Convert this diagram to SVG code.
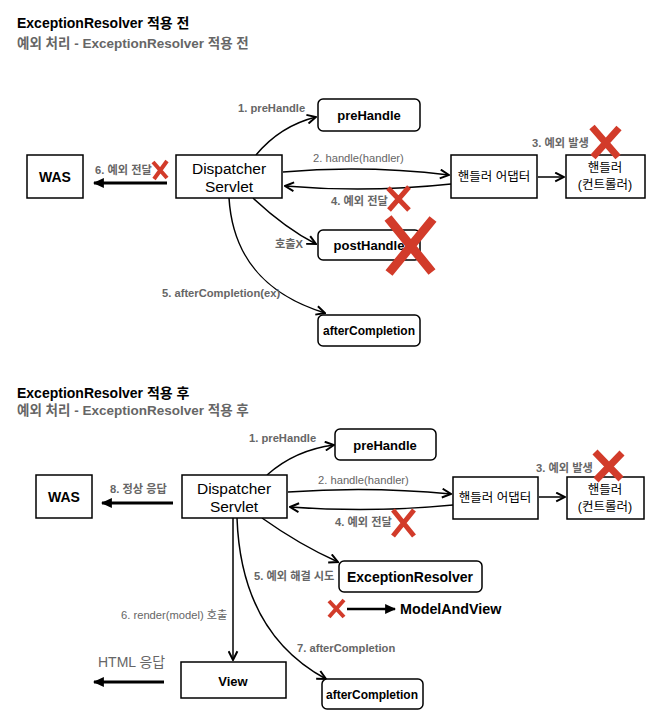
<svg xmlns="http://www.w3.org/2000/svg" width="667" height="717" viewBox="0 0 667 717">
<style>
text{font-family:"Liberation Sans","Noto Sans CJK KR",sans-serif}
.title{font-size:14px;font-weight:bold;fill:#000}
.sub{font-size:13.5px;font-weight:bold;fill:#666}
.lbl{font-size:11.2px;font-weight:bold;fill:#666}
.lblr{font-size:11.2px;fill:#666}
.node{fill:#fff;stroke:#000;stroke-width:1.5}
.nt{font-size:15.5px;fill:#000;text-anchor:middle}
.nk{font-size:12.5px;fill:#000;text-anchor:middle}
.nb{font-size:13px;font-weight:bold;fill:#000;text-anchor:middle}
.edge{fill:none;stroke:#000;stroke-width:1.5;marker-end:url(#open)}
.thick{fill:none;stroke:#000;stroke-width:3;marker-end:url(#tri)}
.x{stroke:#d23b2a;fill:none;stroke-linecap:butt}
</style>
<defs>
<marker id="open" viewBox="0 0 10 10" refX="9" refY="5" markerWidth="11" markerHeight="11" orient="auto" markerUnits="userSpaceOnUse">
<path d="M1,1 L9,5 L1,9" fill="none" stroke="#000" stroke-width="1.8"/>
</marker>
<marker id="tri" viewBox="0 0 10 10" refX="9" refY="5" markerWidth="11" markerHeight="11" orient="auto" markerUnits="userSpaceOnUse">
<path d="M0,0.5 L10,5 L0,9.5 z" fill="#000"/>
</marker>
</defs>

<!-- Titles -->
<text class="title" x="17" y="28">ExceptionResolver 적용 전</text>
<text class="sub" x="17" y="48">예외 처리 - ExceptionResolver 적용 전</text>
<text class="title" x="17" y="398">ExceptionResolver 적용 후</text>
<text class="sub" x="17" y="415">예외 처리 - ExceptionResolver 적용 후</text>

<!-- Connectors -->
<g id="connectors">
<!-- top -->
<path class="edge" d="M256,155 Q280,126 316,117"/>
<path class="edge" d="M283,172 Q365,165 449,175"/>
<path class="edge" d="M451,184 Q368,193 285,186"/>
<path class="edge" d="M538,177 L564,177"/>
<path class="edge" d="M253,198 Q285,228 316,244"/>
<path class="edge" d="M229,198 C233,262 270,296 325,313"/>
<path class="thick" d="M167,183 L94,183"/>
<!-- bottom -->
<path class="edge" d="M267,475 Q295,450 334,445"/>
<path class="edge" d="M288,492 Q370,486 451,494"/>
<path class="edge" d="M453,505 Q372,513 290,507"/>
<path class="edge" d="M539,497 L565,497"/>
<path class="edge" d="M233,518 L233,660"/>
<path class="edge" d="M262,518 Q300,545 338,562"/>
<path class="edge" d="M237,518 C240,602 276,652 326,679"/>
<path class="thick" d="M173,503 L102,503"/>
<path class="thick" d="M164,682 L94,682"/>
<path fill="none" stroke="#000" stroke-width="2.5" marker-end="url(#tri)" d="M347,609 L395,609"/>
</g>

<!-- Labels -->
<text class="lbl" x="238" y="112">1. preHandle</text>
<text class="lblr" x="313" y="162">2. handle(handler)</text>
<text class="lbl" x="532" y="147">3. 예외 발생</text>
<text class="lbl" x="331" y="205">4. 예외 전달</text>
<text class="lbl" x="275" y="248">호출X</text>
<text class="lbl" x="162" y="297">5. afterCompletion(ex)</text>
<text class="lbl" x="95" y="174">6. 예외 전달</text>

<text class="lbl" x="249" y="442">1. preHandle</text>
<text class="lblr" x="318" y="484">2. handle(handler)</text>
<text class="lbl" x="536" y="472">3. 예외 발생</text>
<text class="lbl" x="335" y="526">4. 예외 전달</text>
<text class="lbl" x="254" y="580">5. 예외 해결 시도</text>
<text class="lblr" x="121" y="619">6. render(model) 호출</text>
<text class="lbl" x="297" y="652">7. afterCompletion</text>
<text class="lbl" x="110" y="493">8. 정상 응답</text>
<text x="98" y="667" style="font-size:14px;fill:#666">HTML 응답</text>
<text x="400" y="614" style="font-size:14.3px;font-weight:bold;fill:#000">ModelAndView</text>

<!-- Top nodes -->
<g id="was1"><rect class="node" x="27" y="155" width="56" height="43"/><text class="nt" x="55" y="182" style="font-weight:bold;font-size:14px">WAS</text></g>
<g id="ds1"><rect class="node" x="176" y="155" width="106" height="43"/><text class="nt" x="229" y="174">Dispatcher</text><text class="nt" x="229" y="192">Servlet</text></g>
<g id="pre1"><rect class="node" x="318" y="99" width="102" height="32" rx="5"/><text class="nb" x="369" y="120">preHandle</text></g>
<g id="post1"><rect class="node" x="318" y="230" width="102" height="30" rx="5"/><text class="nb" x="369" y="250">postHandle</text></g>
<g id="after1"><rect class="node" x="318" y="315" width="102" height="31" rx="5"/><text class="nb" x="369" y="335" style="font-size:12px">afterCompletion</text></g>
<g id="adapter1"><rect class="node" x="451" y="155" width="86" height="43"/><text class="nk" x="494" y="181">핸들러 어댑터</text></g>
<g id="handler1"><rect class="node" x="566" y="155" width="79" height="43"/><text class="nk" x="605" y="172">핸들러</text><text class="nk" x="605" y="189">(컨트롤러)</text></g>

<!-- Bottom nodes -->
<g id="was2"><rect class="node" x="36" y="475" width="56" height="43"/><text class="nt" x="64" y="502" style="font-weight:bold;font-size:14px">WAS</text></g>
<g id="ds2"><rect class="node" x="182" y="475" width="105" height="43"/><text class="nt" x="234" y="494">Dispatcher</text><text class="nt" x="234" y="512">Servlet</text></g>
<g id="pre2"><rect class="node" x="335" y="429" width="101" height="31" rx="5"/><text class="nb" x="385" y="450">preHandle</text></g>
<g id="adapter2"><rect class="node" x="453" y="477" width="85" height="42"/><text class="nk" x="495" y="502">핸들러 어댑터</text></g>
<g id="handler2"><rect class="node" x="567" y="477" width="77" height="42"/><text class="nk" x="605" y="494">핸들러</text><text class="nk" x="605" y="511">(컨트롤러)</text></g>
<g id="resolver"><rect class="node" x="339" y="561" width="143" height="31" rx="5"/><text class="nb" x="410" y="582" style="font-size:14px">ExceptionResolver</text></g>
<g id="view"><rect class="node" x="181" y="662" width="105" height="36"/><text class="nt" x="233" y="686" style="font-weight:bold;font-size:13px">View</text></g>
<g id="after2"><rect class="node" x="322" y="679" width="101" height="30" rx="5"/><text class="nb" x="372" y="699" style="font-size:12px">afterCompletion</text></g>

<!-- Red X marks -->
<g id="marks">
<path class="x" stroke-width="4" d="M153,162 L167,178 M167,161 L154,179"/>
<path class="x" stroke-width="7" d="M592,127 L618,157 M619,128 L593,157"/>
<path class="x" stroke-width="5" d="M388,188 L409,210 M409,187 L389,210"/>
<path class="x" stroke-width="9" d="M388,218 L432,272 M433,219 L389,273"/>
<path class="x" stroke-width="7" d="M595,452 L621,479 M622,453 L596,480"/>
<path class="x" stroke-width="5" d="M393,510 L414,536 M414,510 L393,536"/>
<path class="x" stroke-width="4" d="M329,601 L344,617 M344,600 L329,617"/>
</g>
</svg>
